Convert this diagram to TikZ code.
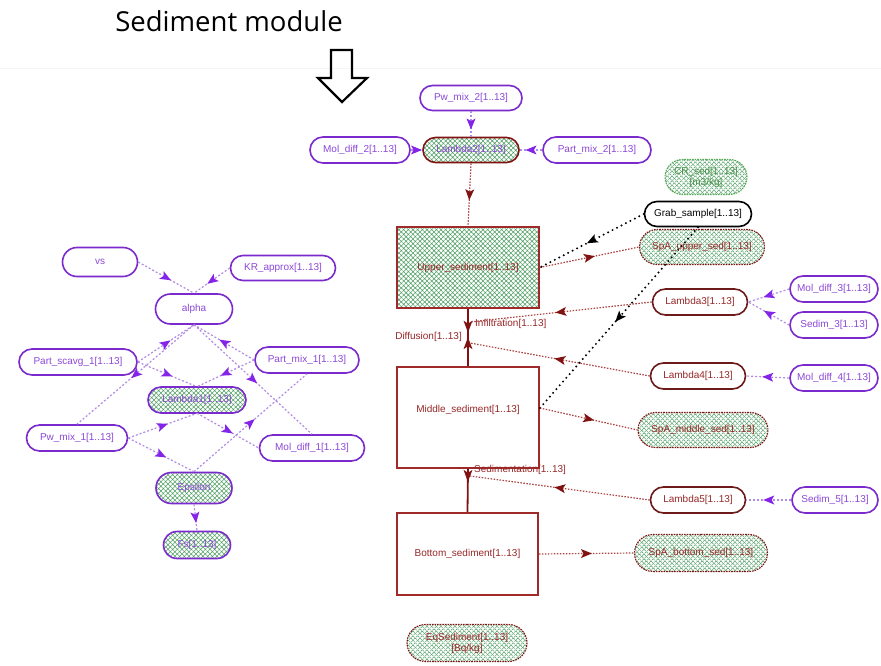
\documentclass[tikz,border=0pt]{standalone}
\usepackage{fontspec}
\setmainfont{Liberation Sans}
\newfontfamily\titlefont{Open Sans}
\usetikzlibrary{shapes.misc,patterns.meta,decorations.markings}

\definecolor{purpline}{RGB}{178,140,228}
\definecolor{purphead}{RGB}{132,36,232}
\definecolor{purpdraw}{RGB}{122,42,205}
\definecolor{purptext}{RGB}{140,72,215}
\definecolor{dred}{RGB}{128,18,18}
\definecolor{redline}{RGB}{172,66,66}
\definecolor{boxred}{RGB}{160,42,42}
\definecolor{redtext}{RGB}{150,40,40}
\definecolor{lamdraw}{RGB}{108,26,26}
\definecolor{hatchgreen}{RGB}{82,160,102}
\definecolor{crgreen}{RGB}{84,168,84}

\tikzset{
  lbl/.style={font=\fontsize{10}{11}\selectfont},
  pill/.style={rounded rectangle, inner sep=0pt, minimum height=#1, line width=1.6pt, lbl, align=center},
  pill/.default=25pt,
  hatchfill/.style={pattern={Hatch[angle=45,distance=3.3pt,line width=.55pt]}, pattern color=hatchgreen},
  param/.style={pill=#1, draw=purpdraw, fill=white, text=purptext},
  param/.default=25pt,
  hparam/.style={pill=#1, draw=purpdraw, hatchfill, text=purptext},
  hparam/.default=25pt,
  lamnode/.style={pill=#1, draw=lamdraw, fill=white, text=redtext},
  lamnode/.default=26pt,
  grabnode/.style={pill=25pt, draw=black, fill=white, text=black},
  spanode/.style={pill=#1, draw=dred, densely dotted, line width=1.1pt, hatchfill, text=redtext},
  spanode/.default=35pt,
  crnode/.style={pill=35pt, draw=crgreen, densely dotted, line width=1.1pt, hatchfill, text=crgreen!85!black},
  comp/.style={rectangle, draw=boxred, line width=1.8pt, inner sep=0pt, lbl, text=redtext},
  boxtext/.style={lbl, text=redtext, inner sep=0pt},
  flowtext/.style={lbl, text=redtext, inner sep=1pt},
  plink/.style={draw=purpline, line width=1.2pt, dash pattern=on 2pt off 2pt,
    postaction={decorate, decoration={markings, mark=at position .5 with
      {\fill[purphead] (5.5pt,0) -- (-5.5pt,4.5pt) -- (-3pt,0) -- (-5.5pt,-4.5pt) -- cycle;}}}},
  rlink/.style={draw=redline, line width=1.2pt, dash pattern=on 1.5pt off 1.5pt,
    postaction={decorate, decoration={markings, mark=at position .5 with
      {\fill[dred] (5.5pt,0) -- (-5.5pt,4.5pt) -- (-3pt,0) -- (-5.5pt,-4.5pt) -- cycle;}}}},
  klink/.style={draw=black, line width=2.2pt, line cap=round, dash pattern=on 0pt off 5pt,
    postaction={decorate, decoration={markings, mark=at position .5 with
      {\fill[black] (5.5pt,0) -- (-5.5pt,4.5pt) -- (-3pt,0) -- (-5.5pt,-4.5pt) -- cycle;}}}},
  flowline/.style={draw=dred, line width=1.8pt},
}

\begin{document}
\begin{tikzpicture}[x=1pt,y=-1pt]
\useasboundingbox[fill=white] (0,0) rectangle (881,666);

% heading and pointer
\node[font=\titlefont\fontsize{27.5}{30}\selectfont, inner sep=0pt] (title) at (229,21) {Sediment module};
\draw[gray!8, line width=1pt] (0,69) -- (881,69);
\draw[line width=2.2pt, line join=miter]
  (331,50) -- (352,50) -- (352,78) -- (367,78) -- (342,102) -- (318,78) -- (331,78) -- cycle;

% ---------- parameter cluster (left) ----------
\node[param=29pt, minimum width=75pt]  (vs)      at (100,262) {vs};
\node[param, minimum width=105pt]      (kr)      at (283,268) {KR\_approx[1..13]};
\node[param=30pt, minimum width=77pt]  (alpha)   at (194,309) {alpha};
\node[param=26pt, minimum width=118pt] (pscavg)  at (78,362)  {Part\_scavg\_1[1..13]};
\node[param=26pt, minimum width=104pt] (pmix1)   at (307,360) {Part\_mix\_1[1..13]};
\node[hparam=26pt, minimum width=98pt] (lam1)    at (197,400) {Lambda1[1..13]};
\node[param=26pt, minimum width=101pt] (pwmix1)  at (77,438)  {Pw\_mix\_1[1..13]};
\node[param=26pt, minimum width=105pt] (moldiff1) at (312,448) {Mol\_diff\_1[1..13]};
\node[hparam=31pt, minimum width=76pt] (eps)     at (194,488) {Epsilon};
\node[hparam=27pt, minimum width=67pt] (fs)      at (197,545) {Fs[1..13]};

\draw[plink] (vs.east) -- (alpha.north);
\draw[plink] (kr.west) -- (alpha.north);
\draw[plink] (pscavg.east) -- (alpha.south);
\draw[plink] (pmix1.west) -- (alpha.south);
\draw[plink] (alpha.south) -- (pwmix1.north);
\draw[plink] (alpha.south) -- (moldiff1.north);
\draw[plink] (pscavg.east) -- (lam1.north);
\draw[plink] (pmix1.west) -- (lam1.north);
\draw[plink] (pwmix1.east) -- (lam1.south);
\draw[plink] (lam1.south) -- (moldiff1.west);
\draw[plink] (pwmix1.east) -- (eps.north);
\draw[plink] (eps.north) -- (pmix1.south);
\draw[plink] (eps.south) -- (fs.north);

% ---------- top parameters ----------
\node[param, minimum width=102pt] (pwmix2)   at (471,98)  {Pw\_mix\_2[1..13]};
\node[pill, draw=dred, hatchfill, text=purptext, minimum width=96pt] (lam2) at (471,150) {Lambda2[1..13]};
\node[param=26pt, minimum width=100pt] (moldiff2) at (360,150) {Mol\_diff\_2[1..13]};
\node[param=26pt, minimum width=108pt] (partmix2) at (597,150) {Part\_mix\_2[1..13]};

\draw[plink] (pwmix2.south) -- (lam2.north);
\draw[plink] (moldiff2.east) -- (lam2.west);
\draw[plink] (partmix2.west) -- (lam2.east);

% ---------- compartments ----------
\node[comp, hatchfill, minimum width=142pt, minimum height=81pt] (upper) at (468,267.5) {Upper\_sediment[1..13]};
\node[comp, fill=white, minimum width=142pt, minimum height=101pt] (middle) at (468,417.5) {};
\node[boxtext] (middletext) at (468,410) {Middle\_sediment[1..13]};
\node[comp, fill=white, minimum width=141pt, minimum height=82pt] (bottom) at (467.5,554) {Bottom\_sediment[1..13]};
\coordinate (mport) at (middle.east |- 0,408);

% flows between the layers
\draw[flowline, postaction={decorate, decoration={markings,
    mark=at position .31 with {\fill[dred] (6pt,0) -- (-6pt,4.5pt) -- (-3pt,0) -- (-6pt,-4.5pt) -- cycle;},
    mark=at position .60 with {\fill[dred] (-6pt,0) -- (6pt,4.5pt) -- (3pt,0) -- (6pt,-4.5pt) -- cycle;}}}]
  (upper.south) -- (middle.north);
\draw[flowline, postaction={decorate, decoration={markings,
    mark=at position .16 with {\fill[dred] (6pt,0) -- (-6pt,4.5pt) -- (-3pt,0) -- (-6pt,-4.5pt) -- cycle;}}}]
  (middle.south) -- (bottom.north);
\coordinate (infpt) at (470,322);
\coordinate (difpt) at (470,343);
\coordinate (sedpt) at (470,476);
\node[flowtext, anchor=west] (inflbl) at (474,324) {Infiltration[1..13]};
\node[flowtext, anchor=east] (diflbl) at (463,337) {Diffusion[1..13]};
\node[flowtext, anchor=west] (sedlbl) at (473,470) {Sedimentation[1..13]};

% ---------- right column ----------
\node[crnode, minimum width=82pt] (crsed) at (706,177) {CR\_sed[1..13]\\{[m3/kg]}};
\node[grabnode, minimum width=107pt] (grab) at (698,214) {Grab\_sample[1..13]};
\node[spanode, minimum width=125pt] (spau) at (702,247) {SpA\_upper\_sed[1..13]};
\node[lamnode, minimum width=95pt] (lam3) at (700,302) {Lambda3[1..13]};
\node[lamnode, minimum width=95pt] (lam4) at (698,376) {Lambda4[1..13]};
\node[spanode, minimum width=130pt] (spam) at (703,430) {SpA\_middle\_sed[1..13]};
\node[lamnode, minimum width=95pt] (lam5) at (698,500) {Lambda5[1..13]};
\node[spanode=37pt, minimum width=133pt] (spab) at (701,553) {SpA\_bottom\_sed[1..13]};
\node[spanode=37pt, minimum width=120pt] (eqsed) at (467,643) {EqSediment[1..13]\\{[Bq/kg]}};

\node[param=26pt, minimum width=88pt] (moldiff3) at (834,289) {Mol\_diff\_3[1..13]};
\node[param=26pt, minimum width=88pt] (sedim3)   at (834,325) {Sedim\_3[1..13]};
\node[param=26pt, minimum width=88pt] (moldiff4) at (834,378) {Mol\_diff\_4[1..13]};
\node[param=26pt, minimum width=86pt] (sedim5)   at (835,500) {Sedim\_5[1..13]};

\draw[plink] (moldiff3.west) -- (lam3.east);
\draw[plink] (sedim3.west) -- (lam3.east);
\draw[plink] (moldiff4.west) -- (lam4.east);
\draw[plink] (sedim5.west) -- (lam5.east);

\draw[rlink] (lam2.south) -- (upper.north);
\draw[rlink] (upper.east) -- (spau.west);
\draw[rlink] (mport) -- (spam.west);
\draw[rlink] (bottom.east) -- (spab.west);
\draw[rlink] (lam3.west) -- (infpt);
\draw[rlink] (lam4.west) -- (difpt);
\draw[rlink] (lam5.west) -- (sedpt);

\draw[klink] (grab.west) -- (upper.east);
\draw[klink] (grab.south) -- (mport);
\end{tikzpicture}
\end{document}
